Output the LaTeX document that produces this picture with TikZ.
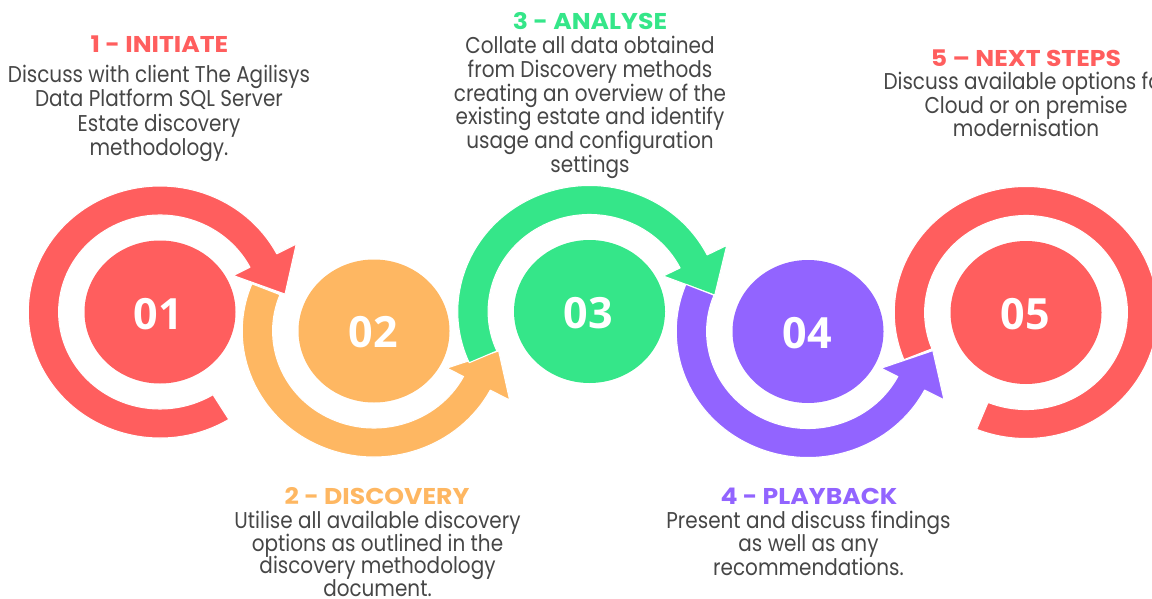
\documentclass[tikz,border=0pt]{standalone}
\usepackage{fontspec}
\setmainfont{Poppins}
\newfontfamily\bodyfont{Poppins}[FakeStretch=0.875]
\newfontfamily\titlefont{Poppins}[FakeStretch=1.1]
\newfontfamily\numfont{Open Sans}
\usetikzlibrary{calc}
\definecolor{cred}{RGB}{255,94,94}
\definecolor{corange}{RGB}{254,183,98}
\definecolor{cgreen}{RGB}{53,230,137}
\definecolor{cpurple}{RGB}{146,100,255}
\definecolor{ctext}{RGB}{70,70,70}
% ring with arrow head: #1 colour, #2 centre, #3 start, #4 end, #5 tip angle
\newcommand\arrowring[5]{%
  \fill[#1, draw=white, line width=0.6pt, line join=round]
    ($(#2)+(#3:131.7 and 126)$) arc[start angle=#3, end angle=#4, x radius=131.7, y radius=126]
    -- ($(#2)+(#4:153.6 and 147)$) -- ($(#2)+(#5:126.4 and 121)$) -- ($(#2)+(#4:82.6 and 79)$)
    -- ($(#2)+(#4:101.4 and 97)$) arc[start angle=#4, end angle=#3, x radius=101.4, y radius=97] -- cycle;}
\newcommand\plainring[4]{%
  \fill[#1, draw=white, line width=0.6pt, line join=round]
    ($(#2)+(#3:131.7 and 126)$) arc[start angle=#3, end angle=#4, x radius=131.7, y radius=126]
    -- ($(#2)+(#4:101.4 and 97)$) arc[start angle=#4, end angle=#3, x radius=101.4, y radius=97] -- cycle;}
\tikzset{
  body/.style={font=\bodyfont\fontsize{13}{16}\selectfont, text=ctext, anchor=base, inner sep=0pt},
  title/.style={font=\titlefont\fontsize{13}{15}\selectfont\bfseries, anchor=base, inner sep=0pt},
  num/.style={font=\numfont\bfseries\fontsize{24.5}{28}\selectfont, text=white, inner sep=0pt},
  disc/.style={x radius=75.5, y radius=71.5}
}
\begin{document}
\begin{tikzpicture}[x=0.02cm, y=-0.02cm]
\useasboundingbox (0,0) rectangle (1152,598);
\clip (0,0) rectangle (1152,598);
\coordinate (c1) at (160,312);
\coordinate (c2) at (374,331);
\coordinate (c3) at (589.5,311.5);
\coordinate (c4) at (808,331.5);
\coordinate (c5) at (1026,312.5);
% rings
\arrowring{cred}{c1}{58.5}{332.5}{351.5}
\arrowring{corange}{c2}{202}{28}{9.5}
\arrowring{cgreen}{c3}{156}{333.3}{352.2}
\arrowring{cpurple}{c4}{202}{27.7}{9.1}
\plainring{cred}{c5}{158}{472}
% discs
\fill[cred] (c1) ellipse[disc];
\fill[corange] (c2) ellipse[disc];
\fill[cgreen] (c3) ellipse[disc];
\fill[cpurple] (c4) ellipse[disc];
\fill[cred] (c5) ellipse[disc];
\node[num] (n1) at ($(c1)+(-2,2)$) {01};
\node[num] (n2) at ($(c2)+(-1,1.5)$) {02};
\node[num] (n3) at ($(c3)+(-1,2)$) {03};
\node[num] (n4) at ($(c4)+(-1,1.5)$) {04};
\node[num] (n5) at ($(c5)+(-1,2)$) {05};
% texts
\node[title, text=cred] (t1) at (159.5,53) {1 - INITIATE};
\foreach \t [count=\i] in {Discuss with client The Agilisys, Data Platform SQL Server, Estate discovery, methodology.}
  \node[body] (b1-\i) at (159,{82.7+24.3*(\i-1)}) {\t};
\node[title, text=cgreen] (t3) at (590,29.3) {3 - ANALYSE};
\foreach \t [count=\i] in {Collate all data obtained, from Discovery methods, creating an overview of the, existing estate and identify, usage and configuration, settings}
  \node[body] (b3-\i) at (590,{53.5+23.8*(\i-1)}) {\t};
\node[title, text=cred] (t5) at (1026,66.7) {5 – NEXT STEPS};
\foreach \t [count=\i] in {Discuss available options for, Cloud or on premise, modernisation}
  \node[body] (b5-\i) at (1026,{90+23.4*(\i-1)}) {\t};
\node[title, text=corange] (t2) at (377,504.3) {2 - DISCOVERY};
\foreach \t [count=\i] in {Utilise all available discovery, options as outlined in the, discovery methodology, document.}
  \node[body] (b2-\i) at (377.5,{528.3+22.8*(\i-1)}) {\t};
\node[title, text=cpurple] (t4) at (809,504.3) {4 - PLAYBACK};
\foreach \t [count=\i] in {Present and discuss findings, as well as any, recommendations.}
  \node[body] (b4-\i) at (808.5,{528.3+23.4*(\i-1)}) {\t};
\end{tikzpicture}
\end{document}
